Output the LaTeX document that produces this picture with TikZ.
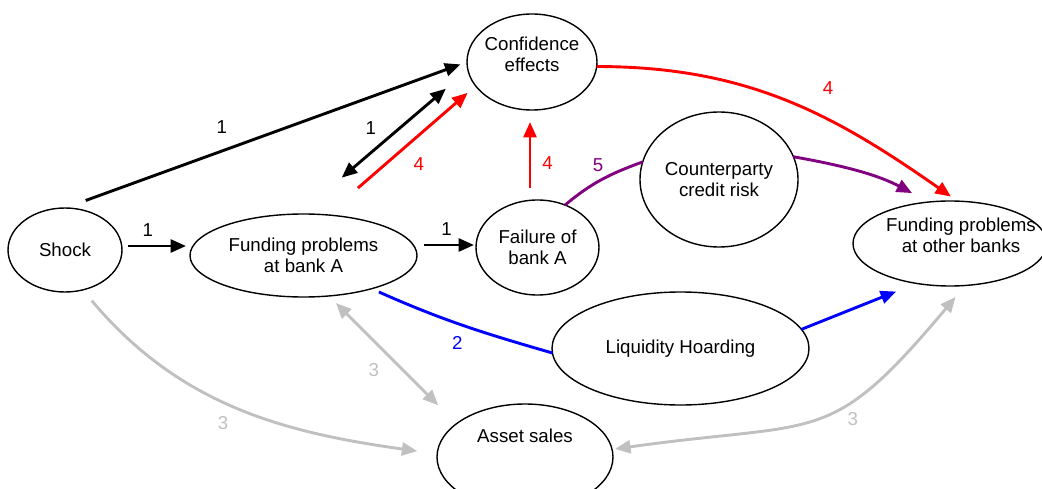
\documentclass[tikz,border=0pt]{standalone}
\usepackage{fontspec}
\setmainfont{Liberation Sans}
\usetikzlibrary{shapes.geometric,arrows.meta}
\definecolor{shadegray}{RGB}{192,192,192}
\definecolor{hoardblue}{RGB}{0,0,255}
\definecolor{riskpurple}{RGB}{128,0,128}
\definecolor{trustred}{RGB}{255,0,0}
\tikzset{
  bubble/.style={ellipse, draw, line width=1.4pt, inner sep=0pt, outer sep=0pt, align=center},
  link/.style={line width=2.9pt},
  num/.style={inner sep=2pt},
}
\begin{document}
\begin{tikzpicture}[x=1pt, y=1pt, >={Triangle[length=15.5pt,width=13pt]}, font=\fontsize{18.7}{21.5}\selectfont]
    \useasboundingbox (0,0) rectangle (1042,-489);
    % the eight boxes of the chain
    \node[bubble, minimum width=114pt, minimum height=84pt] (shock) at (65,-250) {Shock};
    \node[bubble, minimum width=227pt, minimum height=83pt] (fundA) at (303.5,-255.5) {Funding problems\\at bank A};
    \node[bubble, minimum width=123pt, minimum height=95pt] (fail) at (537.5,-247.5) {Failure of\\bank A};
    \node[bubble, minimum width=130pt, minimum height=96pt,
          label={[name=confText, align=center, yshift=7.5pt]center:Confidence\\effects}] (conf) at (532,-62) {};
    \node[bubble, minimum width=158pt, minimum height=135pt] (cpty) at (719,-179.5) {Counterparty\\credit risk};
    \node[bubble, minimum width=194pt, minimum height=85pt,
          label={[name=othersText, align=center, xshift=11pt, yshift=8pt]center:Funding problems\\at other banks}] (others) at (950,-243.5) {};
    \node[bubble, minimum width=257pt, minimum height=113pt] (liq) at (680.5,-348.5) {Liquidity Hoarding};
    \node[bubble, minimum width=176pt, minimum height=106pt,
          label={[name=salesText, yshift=21pt]center:Asset sales}] (sales) at (525,-457) {};

    % 1: direct channel
    \draw[link, ->, shorten <=6pt, shorten >=4pt] ([yshift=4pt]shock.east) -- ([yshift=4pt]shock.east -| fundA.west) node[num, pos=0.38, above=6pt] {1};
    \draw[link, ->, shorten <=7pt, shorten >=2pt] ([yshift=2.5pt]fundA.east |- fail.west) -- ([yshift=2.5pt]fail.west) node[num, midway, above=6pt] {1};
    \draw[link, ->, shorten <=22pt, shorten >=7pt] (shock.north) -- (conf.west) node[num, pos=0.39, above=14pt] {1};
    \draw[link, <->, shorten <=56pt, shorten >=29pt] (fundA.96) -- (conf.187) node[num, pos=0.5, above left=4pt] {1};

    % 4: confidence
    \draw[link, trustred, ->, shorten <=41pt, shorten >=10.6pt] (fundA.60) -- (conf.203) node[num, pos=0.52, below right=6pt] {4};
    \draw[link, trustred, ->, shorten <=12pt, shorten >=12pt] ([xshift=-7.5pt]fail.north) -- ([xshift=-2pt]conf.south) node[num, pos=0.41, right=9pt] {4};
    \draw[link, trustred, ->, shorten >=8pt] (conf.-4) to[out=0, in=145] node[num, pos=0.56, above right=12pt] {4} (others.80);

    % 5: counterparty risk
    \draw[link, riskpurple] (fail.57) to[out=40, in=200] node[num, pos=0.45, above=6pt] {5} (cpty.167);
    \draw[link, riskpurple, ->, shorten >=19pt] (cpty.17) to[out=-10, in=152] (others.117);

    % 2: hoarding
    \draw[link, hoardblue, shorten <=8pt] (fundA.-26) to[out=-24, in=164] node[num, pos=0.48, below=10pt] {2} (liq.182);
    \draw[link, hoardblue, ->, shorten >=22pt] (liq.9) -- (others.230);

    % 3: asset sales
    \draw[link, shadegray, <->, shorten <=10pt, shorten >=26pt] (fundA.-58) -- (sales.154) node[num, pos=0.46, below left=5pt] {3};
    \draw[link, shadegray, ->, shorten <=14pt, shorten >=20pt] (shock.-66) to[out=-50, in=172] node[num, pos=0.45, below=13pt] {3} (sales.178);
    \draw[link, shadegray, <->, shorten <=3pt, shorten >=15pt] (sales.5) to[out=8, in=230, looseness=1.4] node[num, pos=0.64, below=10pt] {3} (others.-70);
\end{tikzpicture}
\end{document}
